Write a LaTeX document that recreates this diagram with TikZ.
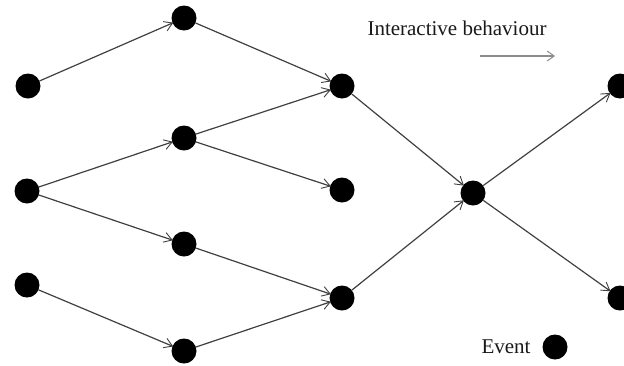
\documentclass[tikz,border=0pt]{standalone}
\usepackage{fontspec}
\setmainfont{Liberation Serif}
\usetikzlibrary{arrows.meta}
\begin{document}
\begin{tikzpicture}[x=1pt,y=-1pt,
  ev/.style={circle,fill=black,inner sep=0pt,minimum size=25pt},
  conn/.style={draw=black!75,line width=1.2pt,-{Straight Barb[length=8pt,width=10pt,line width=0.9pt]},shorten >=-1pt},
  lbl/.style={font=\fontsize{21}{24}\selectfont,inner sep=0pt,text=black!90}]
\useasboundingbox (0,0) rectangle (624,365);
\node[ev] (a1) at (28,86) {};
\node[ev] (a2) at (27,191) {};
\node[ev] (a3) at (27,285) {};
\node[ev] (b1) at (184,18) {};
\node[ev] (b2) at (184,138) {};
\node[ev] (b3) at (184,244) {};
\node[ev] (b4) at (184,351) {};
\node[ev] (c1) at (342,86) {};
\node[ev] (c2) at (342,190) {};
\node[ev] (c3) at (342,298) {};
\node[ev] (d) at (473,193) {};
\node[ev] (e1) at (620,86) {};
\node[ev] (e2) at (620,298) {};
\draw[conn] (a1) -- (b1);
\draw[conn] (b1) -- (c1);
\draw[conn] (b2) -- (c1);
\draw[conn] (a2) -- (b2);
\draw[conn] (a2) -- (b3);
\draw[conn] (b2) -- (c2);
\draw[conn] (b3) -- (c3);
\draw[conn] (a3) -- (b4);
\draw[conn] (b4) -- (c3);
\draw[conn] (c1) -- (d);
\draw[conn] (c3) -- (d);
\draw[conn] (d) -- (e1);
\draw[conn] (d) -- (e2);
\node[lbl] (ib) at (457,28) {Interactive behaviour};
\coordinate (ls) at (480,56);
\coordinate (le) at (555,56);
\draw[draw=black!45,line width=1.3pt,-{Straight Barb[length=7pt,width=10pt,line width=1pt]}] (ls) -- (le);
\node[lbl] (evt) at (506,347) {Event};
\node[ev] (evd) at (555,347) {};
\end{tikzpicture}
\end{document}
